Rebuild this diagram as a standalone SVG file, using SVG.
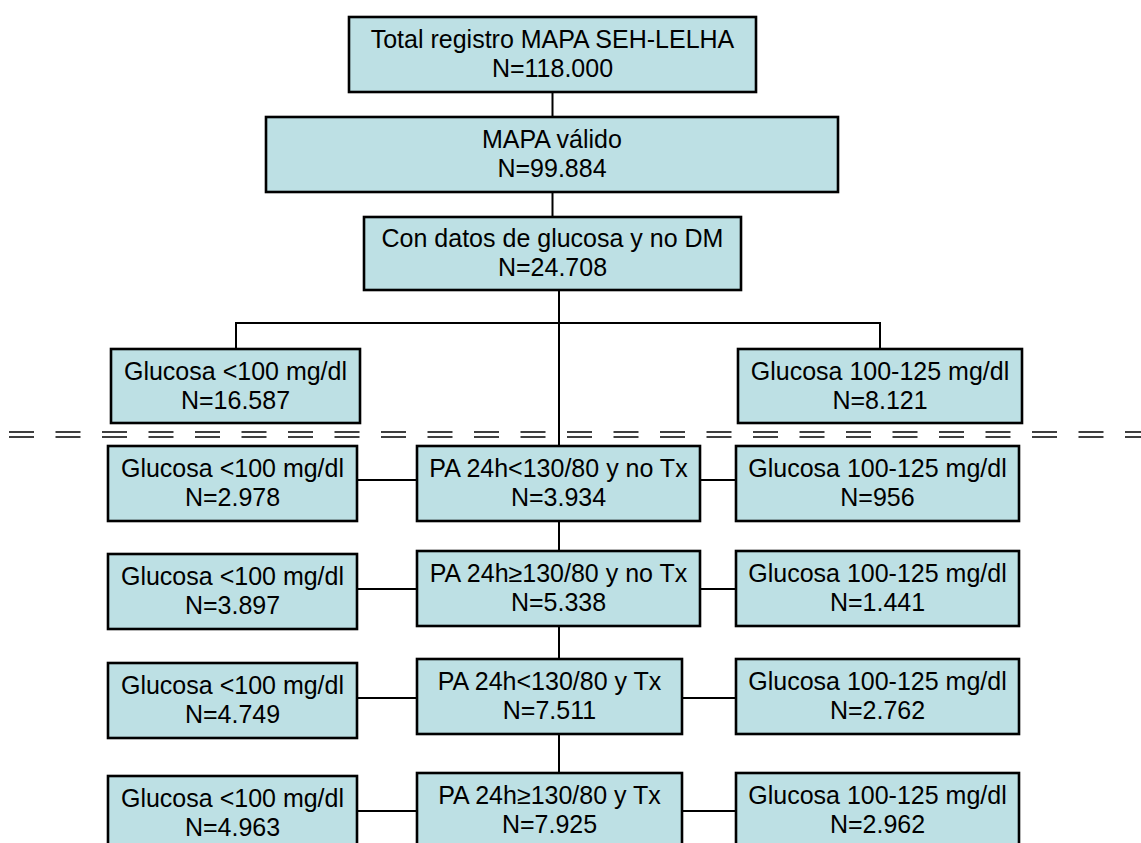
<svg xmlns="http://www.w3.org/2000/svg" width="1141" height="843" viewBox="0 0 1141 843">
<style>
.box{fill:#bde0e4;stroke:#000;stroke-width:2.6}
.t{font-family:"Liberation Sans",Arial,sans-serif;font-size:25px;fill:#000;text-anchor:middle}
.c{stroke:#000;stroke-width:2;fill:none}
.d{stroke:#000;stroke-width:1.6;fill:none;stroke-dasharray:25 21.5}
</style>
<rect width="1141" height="843" fill="#fff"/>
<g id="connectors">
<path class="c" d="M552.5 92V117M552.5 192V217M559 290V446M236 323H880M236 322V349M880 322V349"/>
<path class="c" d="M559 521V551M559 626V659M559 734V773"/>
<path class="c" d="M357 480H417M700 480H736M357 589H417M700 589H736M357 698H417M682 698H736M357 811H417M682 811H736"/>
<path class="d" d="M9 432H1141M9 437H1141"/>
</g>
<g id="n1"><rect class="box" x="349" y="17" width="407" height="75"/><text class="t" x="552.5" y="48">Total registro MAPA SEH-LELHA</text><text class="t" x="552.5" y="77">N=118.000</text></g>
<g id="n2"><rect class="box" x="266" y="117" width="572" height="75"/><text class="t" x="552" y="148">MAPA válido</text><text class="t" x="552" y="177">N=99.884</text></g>
<g id="n3"><rect class="box" x="364" y="217" width="377" height="73"/><text class="t" x="552.5" y="247">Con datos de glucosa y no DM</text><text class="t" x="552.5" y="276">N=24.708</text></g>
<g id="n4"><rect class="box" x="111" y="349" width="249" height="74"/><text class="t" x="235.5" y="379.5">Glucosa &lt;100 mg/dl</text><text class="t" x="235.5" y="408.5">N=16.587</text></g>
<g id="n5"><rect class="box" x="738" y="349" width="284" height="74"/><text class="t" x="880" y="379.5">Glucosa 100-125 mg/dl</text><text class="t" x="880" y="408.5">N=8.121</text></g>
<g id="r1l"><rect class="box" x="108" y="446" width="249" height="75"/><text class="t" x="232.5" y="477">Glucosa &lt;100 mg/dl</text><text class="t" x="232.5" y="506">N=2.978</text></g>
<g id="r1c"><rect class="box" x="417" y="446" width="283" height="75"/><text class="t" x="558.5" y="477">PA 24h&lt;130/80 y no Tx</text><text class="t" x="558.5" y="506">N=3.934</text></g>
<g id="r1r"><rect class="box" x="736" y="446" width="283" height="75"/><text class="t" x="877.5" y="477">Glucosa 100-125 mg/dl</text><text class="t" x="877.5" y="506">N=956</text></g>
<g id="r2l"><rect class="box" x="108" y="554" width="249" height="75"/><text class="t" x="232.5" y="585">Glucosa &lt;100 mg/dl</text><text class="t" x="232.5" y="614">N=3.897</text></g>
<g id="r2c"><rect class="box" x="417" y="551" width="283" height="75"/><text class="t" x="558.5" y="582">PA 24h≥130/80 y no Tx</text><text class="t" x="558.5" y="611">N=5.338</text></g>
<g id="r2r"><rect class="box" x="736" y="551" width="283" height="75"/><text class="t" x="877.5" y="582">Glucosa 100-125 mg/dl</text><text class="t" x="877.5" y="611">N=1.441</text></g>
<g id="r3l"><rect class="box" x="108" y="663" width="249" height="75"/><text class="t" x="232.5" y="694">Glucosa &lt;100 mg/dl</text><text class="t" x="232.5" y="723">N=4.749</text></g>
<g id="r3c"><rect class="box" x="417" y="659" width="265" height="75"/><text class="t" x="549.5" y="690">PA 24h&lt;130/80 y Tx</text><text class="t" x="549.5" y="719">N=7.511</text></g>
<g id="r3r"><rect class="box" x="736" y="659" width="283" height="75"/><text class="t" x="877.5" y="690">Glucosa 100-125 mg/dl</text><text class="t" x="877.5" y="719">N=2.762</text></g>
<g id="r4l"><rect class="box" x="108" y="776" width="249" height="75"/><text class="t" x="232.5" y="807">Glucosa &lt;100 mg/dl</text><text class="t" x="232.5" y="836">N=4.963</text></g>
<g id="r4c"><rect class="box" x="417" y="773" width="265" height="75"/><text class="t" x="549.5" y="804">PA 24h≥130/80 y Tx</text><text class="t" x="549.5" y="833">N=7.925</text></g>
<g id="r4r"><rect class="box" x="736" y="773" width="283" height="75"/><text class="t" x="877.5" y="804">Glucosa 100-125 mg/dl</text><text class="t" x="877.5" y="833">N=2.962</text></g>
</svg>
